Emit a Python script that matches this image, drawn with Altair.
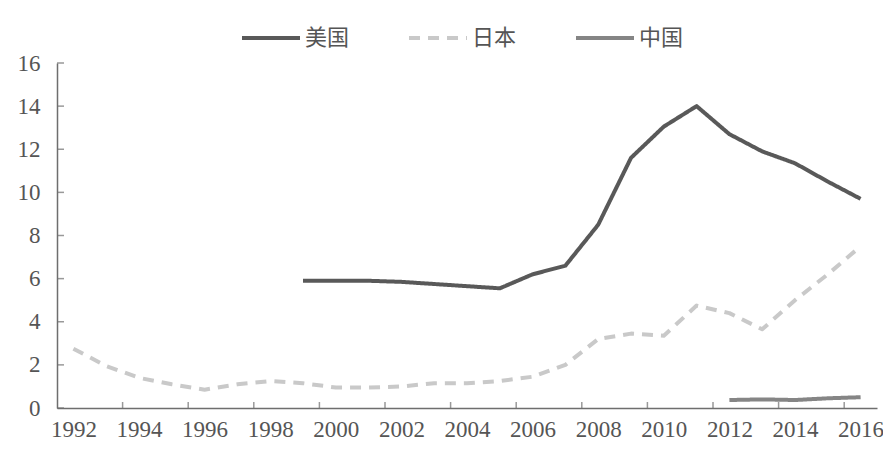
import altair as alt
import pandas as pd

# ---- data ----
series_names = ["美国", "日本", "中国"]

us_years = [1999, 2000, 2001, 2002, 2003, 2004, 2005, 2006, 2007, 2008,
            2009, 2010, 2011, 2012, 2013, 2014, 2015, 2016]
us_values = [5.9, 5.9, 5.9, 5.85, 5.75, 5.65, 5.55, 6.2, 6.6, 8.5,
             11.6, 13.05, 14.0, 12.7, 11.9, 11.35, 10.5, 9.7]

jp_years = [1992, 1993, 1994, 1995, 1996, 1997, 1998, 1999, 2000, 2001,
            2002, 2003, 2004, 2005, 2006, 2007, 2008, 2009, 2010, 2011,
            2012, 2013, 2014, 2015, 2016]
jp_values = [2.75, 1.95, 1.4, 1.1, 0.85, 1.1, 1.25, 1.15, 0.95, 0.95,
             1.0, 1.15, 1.15, 1.25, 1.45, 2.0, 3.2, 3.45, 3.35, 4.75,
             4.4, 3.65, 5.0, 6.2, 7.5]

cn_years = [2012, 2013, 2014, 2015, 2016]
cn_values = [0.37, 0.4, 0.37, 0.45, 0.5]

x_label_years = [1992, 1994, 1996, 1998, 2000, 2002, 2004, 2006, 2008,
                 2010, 2012, 2014, 2016]
x_tick_positions = [1993.5, 1995.5, 1997.5, 1999.5, 2001.5, 2003.5,
                    2005.5, 2007.5, 2009.5, 2011.5, 2013.5, 2015.5]
y_tick_values = [0, 2, 4, 6, 8, 10, 12, 14, 16]

# ---- tables ----
df = pd.concat([
    pd.DataFrame({"year": us_years, "value": us_values, "series": "美国"}),
    pd.DataFrame({"year": jp_years, "value": jp_values, "series": "日本"}),
    pd.DataFrame({"year": cn_years, "value": cn_values, "series": "中国"}),
], ignore_index=True)
xticks_df = pd.DataFrame({"year": x_tick_positions})
yticks_df = pd.DataFrame({"value": y_tick_values})

FONT = "Liberation Serif, Noto Sans CJK SC"
TEXT_COLOR = "#555555"
AXIS_COLOR = "#6e6e6e"
W, H = 820, 345

x_enc = alt.X(
    "year:Q",
    scale=alt.Scale(domain=[1991.5, 2016.5], nice=False, zero=False),
    axis=alt.Axis(values=x_label_years, format="d", ticks=False, grid=False,
                  title=None, labelFlush=False, labelFont=FONT,
                  labelFontSize=23, labelColor=TEXT_COLOR, labelPadding=10,
                  domainColor=AXIS_COLOR, domainWidth=1.5),
)
y_enc = alt.Y(
    "value:Q",
    scale=alt.Scale(domain=[0, 16], nice=False, zero=True),
    axis=alt.Axis(values=y_tick_values, ticks=False, grid=False, title=None,
                  labelFont=FONT, labelFontSize=23, labelColor=TEXT_COLOR,
                  labelPadding=17, domainColor=AXIS_COLOR, domainWidth=1.5),
)

legend = alt.Legend(title=None, orient="none", direction="horizontal",
                    legendX=183, legendY=-56)

lines = alt.Chart(df).mark_line(strokeWidth=4, strokeJoin="round").encode(
    x=x_enc,
    y=y_enc,
    color=alt.Color("series:N", sort=series_names,
                    scale=alt.Scale(domain=series_names,
                                    range=["#595959", "#c9c9c9", "#858585"]),
                    legend=legend),
    strokeDash=alt.StrokeDash("series:N", sort=series_names,
                              scale=alt.Scale(domain=series_names,
                                              range=[[1, 0], [11, 8], [1, 0]]),
                              legend=legend),
)

x_ticks = alt.Chart(xticks_df).mark_tick(
    orient="vertical", size=6, thickness=1.5, color=AXIS_COLOR
).encode(x=x_enc, y=alt.value(H - 3))

y_ticks = alt.Chart(yticks_df).mark_tick(
    orient="horizontal", size=7, thickness=1.5, color=AXIS_COLOR
).encode(y=y_enc, x=alt.value(3.5))

chart = alt.layer(lines, x_ticks, y_ticks).properties(
    width=W, height=H,
    autosize=alt.AutoSizeParams(type="none"),
    padding={"left": 49, "top": 55, "right": 6, "bottom": 34},
    background="white",
).configure_view(stroke=None).configure_legend(
    symbolType="stroke", symbolSize=3364, symbolStrokeWidth=4,
    labelFont=FONT, labelFontSize=22, labelColor=TEXT_COLOR,
    labelOffset=3, columnPadding=51, symbolOpacity=1,
)

chart.save("out.html", embed_options={"renderer": "svg", "actions": False})
